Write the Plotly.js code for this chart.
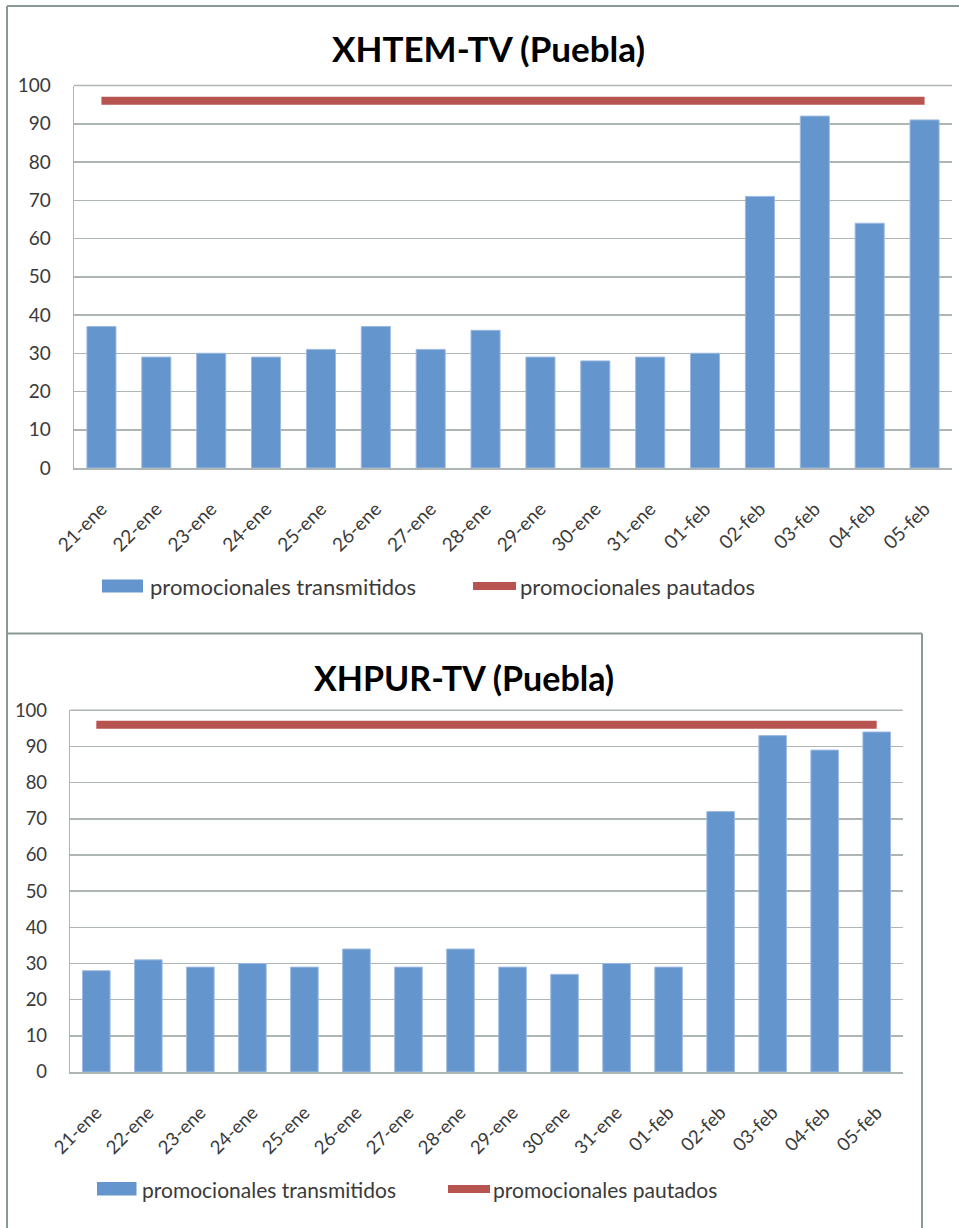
<!DOCTYPE html>
<html>
<head>
<meta charset="utf-8">
<script src="https://cdn.plot.ly/plotly-3.0.1.min.js"></script>
<style>
html,body{margin:0;padding:0;background:#fff;}
#chart{width:959px;height:1228px;}
</style>
</head>
<body>
<div id="chart"></div>
<script>
const categorias = ['21-ene','22-ene','23-ene','24-ene','25-ene','26-ene','27-ene','28-ene','29-ene','30-ene','31-ene','01-feb','02-feb','03-feb','04-feb','05-feb'];
const xhtemTransmitidos = [37,29,30,29,31,37,31,36,29,28,29,30,71,92,64,91];
const xhtemPautados = [96,96,96,96,96,96,96,96,96,96,96,96,96,96,96,96];
const xhpurTransmitidos = [28,31,29,30,29,34,29,34,29,27,30,29,72,93,89,94];
const xhpurPautados = [96,96,96,96,96,96,96,96,96,96,96,96,96,96,96,96];
const yTicks = [0,10,20,30,40,50,60,70,80,90,100];
const titulos = ['XHTEM-TV (Puebla)','XHPUR-TV (Puebla)'];
const nombreBarras = 'promocionales transmitidos';
const nombreLinea = 'promocionales pautados';

const W = 959, H = 1228;
const px = v => v / W;
const py = v => 1 - v / H;

const barColor = '#6495CC';
const lineColor = '#B85450';
const gridColor = '#AEB5B5';
const textColor = '#3A3A3A';
const fontFam = 'Lato, "Open Sans", sans-serif';

const traces = [
  {type:'bar', x:categorias, y:xhtemTransmitidos, name:nombreBarras, xaxis:'x', yaxis:'y',
   marker:{color:barColor, line:{color:'#9DBAE2', width:1}}, width:0.53, showlegend:false},
  {type:'scatter', mode:'lines', x:categorias, y:xhtemPautados, name:nombreLinea, xaxis:'x', yaxis:'y',
   line:{color:lineColor, width:8}, showlegend:false},
  {type:'bar', x:categorias, y:xhpurTransmitidos, name:nombreBarras, xaxis:'x2', yaxis:'y2',
   marker:{color:barColor, line:{color:'#9DBAE2', width:1}}, width:0.53, showlegend:false},
  {type:'scatter', mode:'lines', x:categorias, y:xhpurPautados, name:nombreLinea, xaxis:'x2', yaxis:'y2',
   line:{color:lineColor, width:8}, showlegend:false}
];

function xAxis(domain, anchor, fs){
  return {domain:domain, anchor:anchor, type:'category', showgrid:false, zeroline:false,
    showline:true, linecolor:gridColor, linewidth:1.5, ticks:'', tickangle:-45,
    ticklabelstandoff:21, tickfont:{family:fontFam, size:fs, color:textColor}, fixedrange:true};
}
function yAxis(domain, anchor, fs){
  return {domain:domain, anchor:anchor, range:[0,100], tickvals:yTicks, ticktext:yTicks.map(String),
    showgrid:true, gridcolor:gridColor, gridwidth:1.5, zeroline:false, showline:true, linecolor:gridColor, linewidth:1.5,
    ticks:'', ticklabelstandoff:18, tickfont:{family:fontFam, size:fs, color:textColor}, fixedrange:true};
}

const borderColor = '#8A9994';
const shapes = [
  {type:'line', xref:'paper', yref:'paper', x0:px(7), x1:px(975), y0:py(6), y1:py(6), line:{color:borderColor, width:2}},
  {type:'line', xref:'paper', yref:'paper', x0:px(7), x1:px(7), y0:py(6), y1:py(1240), line:{color:borderColor, width:2}},
  {type:'line', xref:'paper', yref:'paper', x0:px(7), x1:px(922), y0:py(633.5), y1:py(633.5), line:{color:borderColor, width:2}},
  {type:'line', xref:'paper', yref:'paper', x0:px(922), x1:px(922), y0:py(633.5), y1:py(1240), line:{color:borderColor, width:2}},
  {type:'line', xref:'paper', yref:'paper', x0:px(74), x1:px(952), y0:py(85.5), y1:py(85.5), line:{color:gridColor, width:1.5}},
  {type:'line', xref:'paper', yref:'paper', x0:px(70.3), x1:px(902.7), y0:py(710.3), y1:py(710.3), line:{color:gridColor, width:1.5}},
  {type:'rect', xref:'paper', yref:'paper', x0:px(102), x1:px(143), y0:py(579.5), y1:py(592.5), fillcolor:barColor, line:{width:0}},
  {type:'line', xref:'paper', yref:'paper', x0:px(473), x1:px(516), y0:py(586), y1:py(586), line:{color:lineColor, width:8}},
  {type:'rect', xref:'paper', yref:'paper', x0:px(97), x1:px(136.5), y0:py(1182), y1:py(1195.5), fillcolor:barColor, line:{width:0}},
  {type:'line', xref:'paper', yref:'paper', x0:px(448), x1:px(490), y0:py(1189), y1:py(1189), line:{color:lineColor, width:8}}
];

const annotations = [
  {xref:'paper', yref:'paper', x:px(488), y:py(48), text:'<b>'+titulos[0]+'</b>', showarrow:false,
   xanchor:'center', yanchor:'middle', font:{family:fontFam, size:35, color:'#000'}},
  {xref:'paper', yref:'paper', x:px(464), y:py(677), text:'<b>'+titulos[1]+'</b>', showarrow:false,
   xanchor:'center', yanchor:'middle', font:{family:fontFam, size:34, color:'#000'}},
  {xref:'paper', yref:'paper', x:px(148), y:py(586), text:nombreBarras, showarrow:false, xanchor:'left', yanchor:'middle', font:{family:fontFam, size:22, color:textColor}},
  {xref:'paper', yref:'paper', x:px(518), y:py(586), text:nombreLinea, showarrow:false, xanchor:'left', yanchor:'middle', font:{family:fontFam, size:22, color:textColor}},
  {xref:'paper', yref:'paper', x:px(140), y:py(1189), text:nombreBarras, showarrow:false, xanchor:'left', yanchor:'middle', font:{family:fontFam, size:21, color:textColor}},
  {xref:'paper', yref:'paper', x:px(491), y:py(1189), text:nombreLinea, showarrow:false, xanchor:'left', yanchor:'middle', font:{family:fontFam, size:21, color:textColor}}
];

const layout = {
  width:W, height:H, margin:{l:0, r:0, t:0, b:0},
  paper_bgcolor:'#fff', plot_bgcolor:'#fff',
  showlegend:false, bargap:0.47,
  xaxis: xAxis([px(74), px(952)], 'y', 19),
  yaxis: yAxis([py(468), py(85.5)], 'x', 19),
  xaxis2: xAxis([px(70.3), px(902.7)], 'y2', 18.5),
  yaxis2: yAxis([py(1072), py(710.3)], 'x2', 18.5),
  shapes: shapes,
  annotations: annotations
};

Plotly.newPlot('chart', traces, layout, {staticPlot:true, displayModeBar:false});
</script>
</body>
</html>
